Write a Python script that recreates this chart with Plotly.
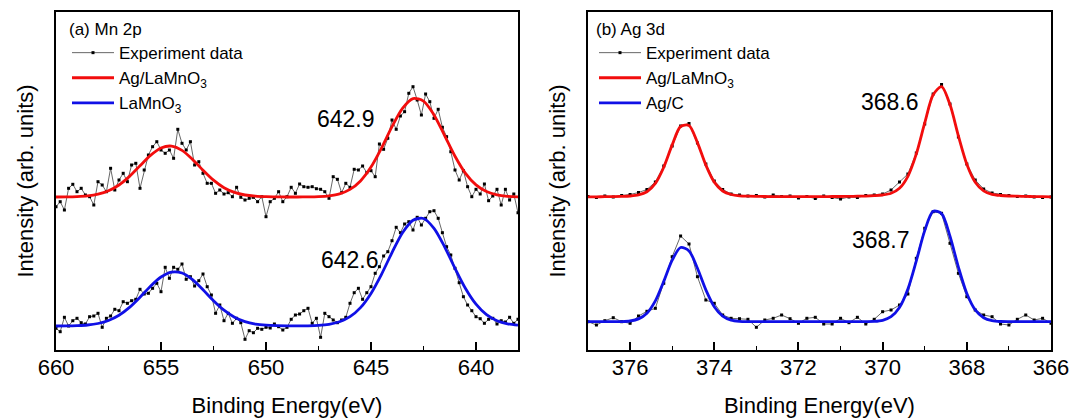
import numpy as np
import plotly.graph_objects as go
from plotly.subplots import make_subplots

# ---------------- data ----------------
# (a) Mn 2p : experiment grid 660 -> 638 eV (0.2 eV), fit grid 660 -> 638 eV (0.5 eV)
mn_energy = np.round(np.linspace(660, 638, 111), 2)
mn_fit_energy = np.round(np.linspace(660, 638, 45), 2)

mn_ag_lamno3_exp = [143.3, 148.3, 140.0, 161.7, 165.7, 158.3, 161.7, 155.0, 153.3, 145.0,
                    168.3, 165.0, 158.3, 181.7, 160.0, 170.0, 176.7, 168.3, 185.0, 186.7,
                    161.7, 180.0, 195.0, 203.3, 208.3, 200.0, 196.7, 200.0, 191.7, 220.7,
                    206.7, 200.0, 208.3, 185.0, 188.3, 176.7, 166.7, 166.7, 156.7, 160.0,
                    156.0, 157.3, 153.3, 162.7, 152.7, 150.0, 151.7, 152.7, 148.3, 153.3,
                    133.3, 148.3, 151.7, 158.3, 148.3, 153.3, 162.7, 156.7, 166.0, 163.3,
                    162.7, 163.3, 161.3, 160.7, 158.3, 151.7, 173.3, 170.7, 157.3, 166.7,
                    162.7, 180.7, 180.0, 184.0, 177.3, 179.3, 173.3, 206.0, 200.7, 211.7,
                    230.0, 220.7, 234.0, 238.3, 256.7, 263.3, 250.0, 235.0, 256.0, 248.3,
                    231.7, 240.7, 222.7, 213.3, 198.3, 180.0, 170.0, 179.3, 163.3, 153.3,
                    160.7, 156.0, 166.0, 149.3, 154.0, 160.7, 145.0, 160.7, 150.0, 156.0,
                    137.3]
mn_lamno3_exp = [21.7, 18.3, 32.7, 24.0, 29.3, 31.7, 27.3, 26.0, 33.3, 34.0,
                 36.7, 22.7, 31.7, 34.0, 40.7, 39.3, 48.3, 46.7, 49.3, 50.7,
                 60.7, 56.0, 56.7, 61.7, 66.7, 58.3, 82.7, 71.7, 82.7, 80.7,
                 86.0, 70.7, 73.3, 64.0, 69.3, 76.0, 63.3, 55.0, 36.7, 45.0,
                 29.3, 36.7, 26.7, 31.7, 27.3, 10.7, 19.3, 17.3, 21.7, 20.7,
                 22.7, 22.0, 26.0, 23.3, 20.0, 22.7, 30.7, 35.0, 36.0, 39.3,
                 41.7, 26.7, 31.7, 12.7, 36.7, 33.3, 30.0, 27.3, 30.0, 32.7,
                 46.7, 57.3, 61.7, 50.7, 57.3, 63.3, 76.7, 83.3, 94.0, 98.3,
                 109.3, 122.7, 117.3, 126.0, 128.3, 120.0, 132.7, 125.0, 131.7, 138.3,
                 139.3, 131.7, 117.3, 103.3, 95.0, 81.7, 67.3, 53.3, 45.0, 39.3,
                 33.3, 31.3, 26.7, 30.7, 31.7, 26.0, 29.3, 28.0, 32.7, 26.7,
                 30.7]
mn_ag_lamno3_fit = [153.0, 153.1, 153.4, 154.1, 155.8, 159.2, 165.0, 173.6, 184.2, 194.6,
                    202.0, 203.9, 199.6, 190.6, 179.8, 169.8, 162.3, 157.6, 155.0, 153.8,
                    153.3, 153.1, 153.0, 153.0, 153.1, 153.4, 154.2, 156.1, 160.6, 169.1,
                    182.9, 201.9, 223.3, 241.7, 251.4, 248.9, 235.1, 214.7, 193.8, 176.7,
                    165.1, 158.4, 155.1, 153.7, 153.2]
mn_lamno3_fit = [24.0, 24.1, 24.4, 25.0, 26.5, 29.5, 34.7, 42.6, 52.8, 63.8,
                 73.0, 77.9, 77.0, 70.4, 60.3, 49.3, 39.8, 32.8, 28.3, 25.9,
                 24.8, 24.3, 24.1, 24.1, 24.2, 24.6, 25.7, 28.2, 33.3, 42.4,
                 56.6, 75.7, 97.4, 117.2, 129.8, 131.5, 121.7, 103.4, 81.7, 61.5,
                 45.8, 35.3, 29.3, 26.2, 24.8]

# (b) Ag 3d : grid 377 -> 366 eV (0.2 eV)
ag_energy = np.round(np.linspace(377, 366, 56), 2)
ag_ag_lamno3_exp = [153.5, 152.5, 154.0, 153.0, 154.5, 155.5, 157.5, 160.5, 168.0, 184.0,
                    204.0, 224.0, 226.5, 207.0, 186.0, 169.0, 160.5, 156.0, 155.0, 154.0,
                    154.5, 153.0, 155.0, 153.5, 154.0, 152.0, 153.5, 151.5, 154.0, 152.5,
                    151.0, 153.0, 152.5, 154.5, 155.0, 156.0, 160.0, 168.0, 176.0, 197.0,
                    226.0, 256.0, 265.5, 246.0, 213.0, 186.0, 170.0, 161.0, 157.0, 155.5,
                    154.5, 153.5, 154.0, 153.0, 152.5, 153.0]
ag_ag_c_exp = [28.3, 25.0, 29.3, 32.3, 28.3, 26.7, 34.0, 38.7, 41.7, 66.7,
               93.3, 114.0, 106.0, 73.3, 50.0, 46.7, 35.0, 31.7, 31.3, 30.7,
               22.7, 30.0, 31.7, 35.0, 31.3, 26.7, 31.7, 32.7, 26.0, 26.0,
               31.7, 27.3, 32.7, 26.0, 30.7, 38.3, 40.0, 45.0, 56.0, 91.7,
               121.7, 138.3, 136.7, 106.7, 76.7, 53.3, 40.0, 35.0, 33.3, 26.0,
               25.0, 30.7, 35.0, 30.0, 31.7, 26.7]
ag_ag_lamno3_fit = [153.1, 153.2, 153.3, 153.4, 153.6, 154.0, 155.1, 158.3, 166.6, 182.8,
                    205.1, 223.5, 224.5, 207.4, 184.9, 167.9, 159.0, 155.5, 154.2, 153.8,
                    153.6, 153.5, 153.4, 153.4, 153.3, 153.3, 153.3, 153.3, 153.4, 153.5,
                    153.5, 153.6, 153.8, 153.9, 154.3, 155.0, 156.7, 161.7, 173.7, 196.1,
                    227.1, 255.2, 263.4, 245.4, 214.1, 185.8, 167.8, 159.1, 155.7, 154.5,
                    154.0, 153.8, 153.6, 153.4, 153.3, 153.2]
ag_ag_c_fit = [28.3, 28.3, 28.3, 28.3, 28.4, 29.0, 31.1, 36.8, 49.1, 68.6,
               89.8, 102.5, 99.1, 81.7, 60.1, 43.3, 33.9, 29.9, 28.7, 28.4,
               28.3, 28.3, 28.3, 28.3, 28.3, 28.3, 28.3, 28.3, 28.3, 28.3,
               28.3, 28.3, 28.3, 28.4, 28.6, 29.7, 33.3, 42.5, 61.0, 89.1,
               119.4, 138.7, 136.4, 113.8, 82.9, 56.5, 40.1, 32.3, 29.4, 28.5,
               28.3, 28.3, 28.3, 28.3, 28.3, 28.3]

# peak labels: (text, energy, intensity)
mn_labels = [("642.9", 646.2, 231), ("642.6", 646.0, 90)]
ag_labels = [("368.6", 369.83, 248.5), ("368.7", 370.03, 110.5)]

# ---------------- styles ----------------
FONT = "Liberation Sans, Arial, sans-serif"
RED = "#f20d0d"
BLUE = "#1010e6"
EXP_LINE = "#404040"

fig = make_subplots(rows=1, cols=2, horizontal_spacing=0.07)


def exp_trace(x, y, show, legend):
    return go.Scatter(x=x, y=y, mode="lines+markers", name="Experiment data",
                      line=dict(color=EXP_LINE, width=0.8),
                      marker=dict(color="black", size=3, symbol="square"),
                      showlegend=show, legend=legend)


def fit_trace(x, y, name, color, legend):
    return go.Scatter(x=x, y=y, mode="lines", name=name,
                      line=dict(color=color, width=2.8, shape="spline", smoothing=0.8),
                      legend=legend)


fig.add_trace(exp_trace(mn_energy, mn_ag_lamno3_exp, True, "legend"), 1, 1)
fig.add_trace(exp_trace(mn_energy, mn_lamno3_exp, False, "legend"), 1, 1)
fig.add_trace(fit_trace(mn_fit_energy, mn_ag_lamno3_fit, "Ag/LaMnO<sub>3</sub>", RED, "legend"), 1, 1)
fig.add_trace(fit_trace(mn_fit_energy, mn_lamno3_fit, "LaMnO<sub>3</sub>", BLUE, "legend"), 1, 1)

fig.add_trace(exp_trace(ag_energy, ag_ag_lamno3_exp, True, "legend2"), 1, 2)
fig.add_trace(exp_trace(ag_energy, ag_ag_c_exp, False, "legend2"), 1, 2)
fig.add_trace(fit_trace(ag_energy, ag_ag_lamno3_fit, "Ag/LaMnO<sub>3</sub>", RED, "legend2"), 1, 2)
fig.add_trace(fit_trace(ag_energy, ag_ag_c_fit, "Ag/C", BLUE, "legend2"), 1, 2)

W, H = 1072, 418
L, T = 56, 12
R = W - 1051
B = H - 350
PW = W - L - R
PH = H - T - B
d1 = [0, (518 - L) / PW]
d2 = [(588 - L) / PW, 1]

axis_common = dict(showline=True, linecolor="black", linewidth=1.6, mirror=True,
                   showgrid=False, zeroline=False, automargin=False)
tickfont = dict(family=FONT, size=22, color="black")
titlefont = dict(family=FONT, size=22, color="black")

fig.update_xaxes(domain=d1, range=[660, 638], tickvals=[660, 655, 650, 645, 640],
                 ticks="inside", ticklen=8, tickwidth=1.6, tickcolor="black",
                 minor=dict(ticks="inside", ticklen=4, tickwidth=1.4, tickcolor="black",
                            tickvals=[657.5, 652.5, 647.5, 642.5]),
                 tickfont=tickfont, ticklabelstandoff=-3, ticklabeloverflow="allow",
                 title=dict(text="Binding Energy(eV)", font=titlefont, standoff=18),
                 row=1, col=1, **axis_common)
fig.update_xaxes(domain=d2, range=[377, 366], tickvals=[376, 374, 372, 370, 368, 366],
                 ticks="inside", ticklen=8, tickwidth=1.6, tickcolor="black",
                 minor=dict(ticks="inside", ticklen=4, tickwidth=1.4, tickcolor="black",
                            tickvals=[375, 373, 371, 369, 367]),
                 tickfont=tickfont, ticklabelstandoff=-3, ticklabeloverflow="allow",
                 title=dict(text="Binding Energy(eV)", font=titlefont, standoff=18),
                 row=1, col=2, **axis_common)
for c in (1, 2):
    fig.update_yaxes(range=[0, 338], showticklabels=False, ticks="",
                     title=dict(text="Intensity (arb. units)", font=titlefont, standoff=15),
                     row=1, col=c, **axis_common)

for text, ex, ey in mn_labels:
    fig.add_annotation(x=ex, y=ey, xref="x", yref="y", text=text, showarrow=False,
                       font=dict(family=FONT, size=23, color="black"))
for text, ex, ey in ag_labels:
    fig.add_annotation(x=ex, y=ey, xref="x2", yref="y2", text=text, showarrow=False,
                       font=dict(family=FONT, size=23, color="black"))

legend_common = dict(xanchor="left", yanchor="top", bgcolor="rgba(0,0,0,0)",
                     font=dict(family=FONT, size=17, color="black"),
                     itemwidth=42, tracegroupgap=0, borderwidth=0)
fig.update_layout(
    width=W, height=H,
    margin=dict(l=L, r=R, t=T, b=B, autoexpand=False),
    paper_bgcolor="white", plot_bgcolor="white",
    font=dict(family=FONT, color="black"),
    legend=dict(x=(67 - L) / PW, y=(350 - 13) / PH,
                title=dict(text="(a) Mn 2p", font=dict(family=FONT, size=17, color="black")),
                **legend_common),
    legend2=dict(x=(594 - L) / PW, y=(350 - 13) / PH,
                 title=dict(text="(b) Ag 3d", font=dict(family=FONT, size=17, color="black")),
                 **legend_common),
)

# remove the browser's default 8px page margin so the figure fills the window exactly
fig.write_html("out.html", config={"displayModeBar": False},
               post_script="document.body.style.margin='0';document.body.style.overflow='hidden';")
